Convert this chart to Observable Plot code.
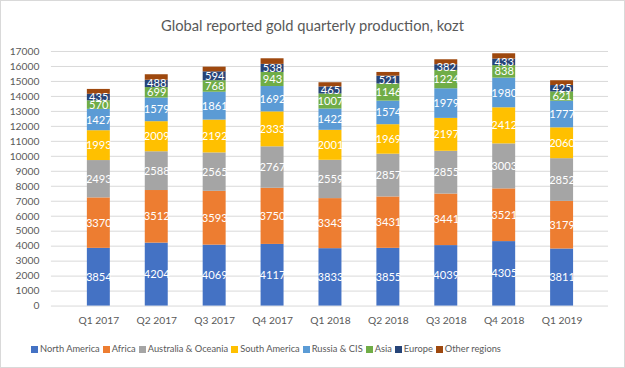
<!DOCTYPE html>
<html>
<head>
<meta charset="utf-8">
<script src="https://cdn.jsdelivr.net/npm/d3@7"></script>
<script src="https://cdn.jsdelivr.net/npm/@observablehq/plot@0.6"></script>
<style>
  html, body { margin: 0; padding: 0; background: #fff; }
  #frame { position: relative; width: 623px; height: 366px; border: 1px solid #d9d9d9; overflow: hidden; font-family: "Lato", sans-serif; }
  #title { position: absolute; left: 0; width: 100%; top: 15px; text-align: center; font-size: 14.7px; color: #595959; line-height: 18px; }
  #chart { position: absolute; left: -1px; top: 39px; }
  #legend { position: absolute; left: 30px; top: 342px; display: flex; align-items: center; font-size: 9.3px; color: #595959; white-space: nowrap; line-height: 12px; }
  #legend .item { display: flex; align-items: center; margin-right: 3px; }
  #legend .sw { width: 7px; height: 7px; margin-right: 2px; }
</style>
</head>
<body>
<div id="frame">
  <div id="title">Global reported gold quarterly production, kozt</div>
  <div id="chart"></div>
  <div id="legend"></div>
</div>
<script>
const quarters = ["Q1 2017","Q2 2017","Q3 2017","Q4 2017","Q1 2018","Q2 2018","Q3 2018","Q4 2018","Q1 2019"];
const seriesNames = ["North America","Africa","Australia & Oceania","South America","Russia & CIS","Asia","Europe","Other regions"];
const seriesColors = ["#4472C4","#ED7D31","#A5A5A5","#FFC000","#5B9BD5","#70AD47","#264478","#9E480E"];
const northAmerica = [3854,4204,4069,4117,3833,3855,4039,4305,3811];
const africa       = [3370,3512,3593,3750,3343,3431,3441,3521,3179];
const australia    = [2493,2588,2565,2767,2559,2857,2855,3003,2852];
const southAmerica = [1993,2009,2192,2333,2001,1969,2197,2412,2060];
const russiaCIS    = [1427,1579,1861,1692,1422,1574,1979,1980,1777];
const asia         = [570,699,768,943,1007,1146,1224,838,621];
const europe       = [435,488,594,538,465,521,382,433,425];
const otherRegions = [325,368,311,373,283,247,330,355,322];
const yTicks = d3.range(0, 17001, 1000);

const seriesValues = [northAmerica, africa, australia, southAmerica, russiaCIS, asia, europe, otherRegions];
const rows = [];
seriesNames.forEach((s, i) => quarters.forEach((q, j) => rows.push({quarter: q, series: s, value: seriesValues[i][j]})));

const chart = Plot.plot({
  width: 625,
  height: 301,
  marginTop: 11,
  marginBottom: 35,
  marginLeft: 51,
  marginRight: 16,
  style: {fontFamily: '"Lato", sans-serif', fontSize: "10.3px", color: "#595959", background: "transparent"},
  x: {domain: quarters, padding: 0.61, label: null, tickSize: 0, tickPadding: 11},
  y: {domain: [0, 17000], ticks: yTicks, label: null, tickSize: 0, tickPadding: 12, tickFormat: d => String(d)},
  color: {domain: seriesNames, range: seriesColors},
  marks: [
    Plot.gridY(yTicks, {stroke: "#d9d9d9", strokeOpacity: 1}),
    Plot.barY(rows, {x: "quarter", y: "value", fill: "series", order: seriesNames}),
    Plot.text(rows, Plot.stackY({x: "quarter", y: "value", z: "series", order: seriesNames, text: d => d.series === "Other regions" ? null : String(d.value), fill: "white", fontSize: 11.2}))
  ]
});
document.getElementById("chart").appendChild(chart);

const legend = document.getElementById("legend");
seriesNames.forEach((s, i) => {
  const it = document.createElement("div");
  it.className = "item";
  const sw = document.createElement("div");
  sw.className = "sw";
  sw.style.background = seriesColors[i];
  const t = document.createElement("span");
  t.textContent = s;
  it.appendChild(sw); it.appendChild(t);
  legend.appendChild(it);
});
</script>
</body>
</html>
